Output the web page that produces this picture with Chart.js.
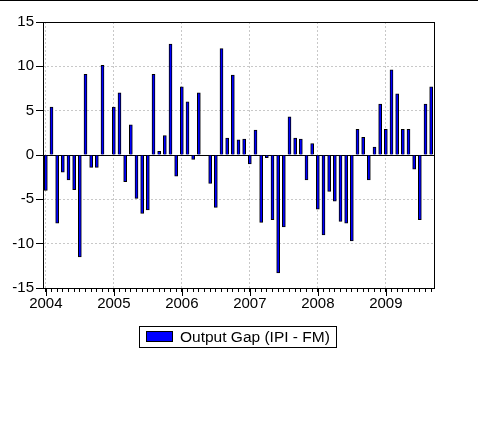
<!DOCTYPE html>
<html>
<head>
<meta charset="utf-8">
<script src="https://cdn.jsdelivr.net/npm/chart.js@4/dist/chart.umd.min.js"></script>
<style>
  html, body { margin: 0; padding: 0; background: #fff; }
  canvas { display: block; }
</style>
</head>
<body>
<canvas id="myChart" width="478" height="422"></canvas>
<script>
  const years = ['2004', '2005', '2006', '2007', '2008', '2009'];
  const months = ['01', '02', '03', '04', '05', '06', '07', '08', '09', '10', '11', '12'];

  // output gap by year (last year ends in September)
  const gap2004 = [-4.0, 5.4, -7.7, -1.95, -2.8, -3.9, -11.5, 9.1, -1.4, -1.4, 10.1, 0];
  const gap2005 = [5.4, 7.0, -3.0, 3.4, -4.9, -6.6, -6.2, 9.1, 0.4, 2.2, 12.5, -2.4];
  const gap2006 = [7.7, 6.0, -0.5, 7.0, 0, -3.2, -5.9, 12.0, 1.9, 9.0, 1.7, 1.8];
  const gap2007 = [-1.0, 2.8, -7.6, -0.3, -7.3, -13.3, -8.1, 4.3, 1.9, 1.8, -2.8, 1.3];
  const gap2008 = [-6.1, -9.0, -4.1, -5.2, -7.5, -7.7, -9.7, 2.9, 2.0, -2.8, 0.9, 5.75];
  const gap2009 = [2.9, 9.6, 6.9, 2.9, 2.9, -1.6, -7.3, 5.75, 7.7];

  const yTicks = [-15, -10, -5, 0, 5, 10, 15];
  const seriesName = 'Output Gap (IPI - FM)';
  const fontFamily = '"Liberation Sans", Arial, sans-serif';

  const values = [].concat(gap2004, gap2005, gap2006, gap2007, gap2008, gap2009);
  const labels = [];
  years.forEach(y => months.forEach(m => labels.push(y + 'M' + m)));
  labels.length = values.length;

  const isJan = i => labels[i] && labels[i].endsWith('M01');

  const frame = {
    id: 'frame',
    beforeDatasetsDraw(chart) {
      const { ctx, chartArea: a, scales } = chart;
      const y0 = Math.round(scales.y.getPixelForValue(0)) + 0.5;
      ctx.save();
      ctx.strokeStyle = '#000';
      ctx.lineWidth = 1;
      ctx.beginPath();
      ctx.moveTo(a.left, y0);
      ctx.lineTo(a.right, y0);
      ctx.stroke();
      ctx.restore();
    },
    afterDraw(chart) {
      const { ctx, chartArea: a, scales } = chart;
      ctx.save();
      ctx.strokeStyle = '#000';
      ctx.lineWidth = 1;
      // top rule
      ctx.beginPath();
      ctx.moveTo(0, 0.5);
      ctx.lineTo(478, 0.5);
      ctx.stroke();
      // plot box
      ctx.strokeRect(Math.round(a.left) + 0.5, Math.round(a.top) + 0.5,
        Math.round(a.right - a.left), Math.round(a.bottom - a.top));
      // longer year ticks
      labels.forEach((l, i) => {
        if (!isJan(i)) return;
        const x = Math.round(scales.x.getPixelForValue(i)) + 0.5;
        ctx.beginPath();
        ctx.moveTo(x, a.bottom);
        ctx.lineTo(x, a.bottom + 8);
        ctx.stroke();
      });
      // legend
      ctx.strokeRect(139.5, 326.5, 197, 21);
      ctx.fillStyle = '#0000ff';
      ctx.fillRect(146, 331, 27, 11);
      ctx.strokeRect(146.5, 331.5, 26, 10);
      ctx.fillStyle = '#000';
      ctx.font = '15.5px ' + fontFamily;
      ctx.textBaseline = 'middle';
      ctx.textAlign = 'left';
      ctx.fillText(seriesName, 180, 337.5);
      ctx.restore();
    }
  };

  const data = {
    labels: labels,
    datasets: [{
      label: seriesName,
      backgroundColor: '#0000ff',
      borderColor: '#000',
      borderWidth: 1,
      barThickness: 3,
      data: values,
    }]
  };

  const config = {
    type: 'bar',
    data: data,
    options: {
      responsive: false,
      animation: false,
      layout: { padding: { left: 0, top: 22, right: 44, bottom: 104 } },
      plugins: { legend: { display: false }, tooltip: { enabled: false } },
      scales: {
        x: {
          offset: true,
          afterFit: s => { s.height = 30; },
          grid: {
            offset: false,
            drawOnChartArea: true,
            color: c => isJan(c.index) ? '#c8c8c8' : 'rgba(0,0,0,0)',
            tickColor: '#000',
            tickLength: 4,
          },
          border: { display: false, dash: [2, 2] },
          ticks: {
            autoSkip: false,
            maxRotation: 0,
            padding: 3,
            color: '#000',
            font: { family: fontFamily, size: 15 },
            callback: (v, i) => isJan(i) ? labels[i].slice(0, 4) : '',
          }
        },
        y: {
          min: yTicks[0],
          max: yTicks[yTicks.length - 1],
          afterFit: s => { s.width = 43; },
          afterBuildTicks: s => { s.ticks = yTicks.map(v => ({ value: v })); },
          grid: {
            color: '#c8c8c8',
            tickColor: '#000',
            tickLength: 7,
          },
          border: { display: false, dash: [2, 2] },
          ticks: {
            padding: 2,
            color: '#000',
            font: { family: fontFamily, size: 15 },
          }
        }
      }
    },
    plugins: [frame]
  };

  const myChart = new Chart(document.getElementById('myChart'), config);
</script>
</body>
</html>
